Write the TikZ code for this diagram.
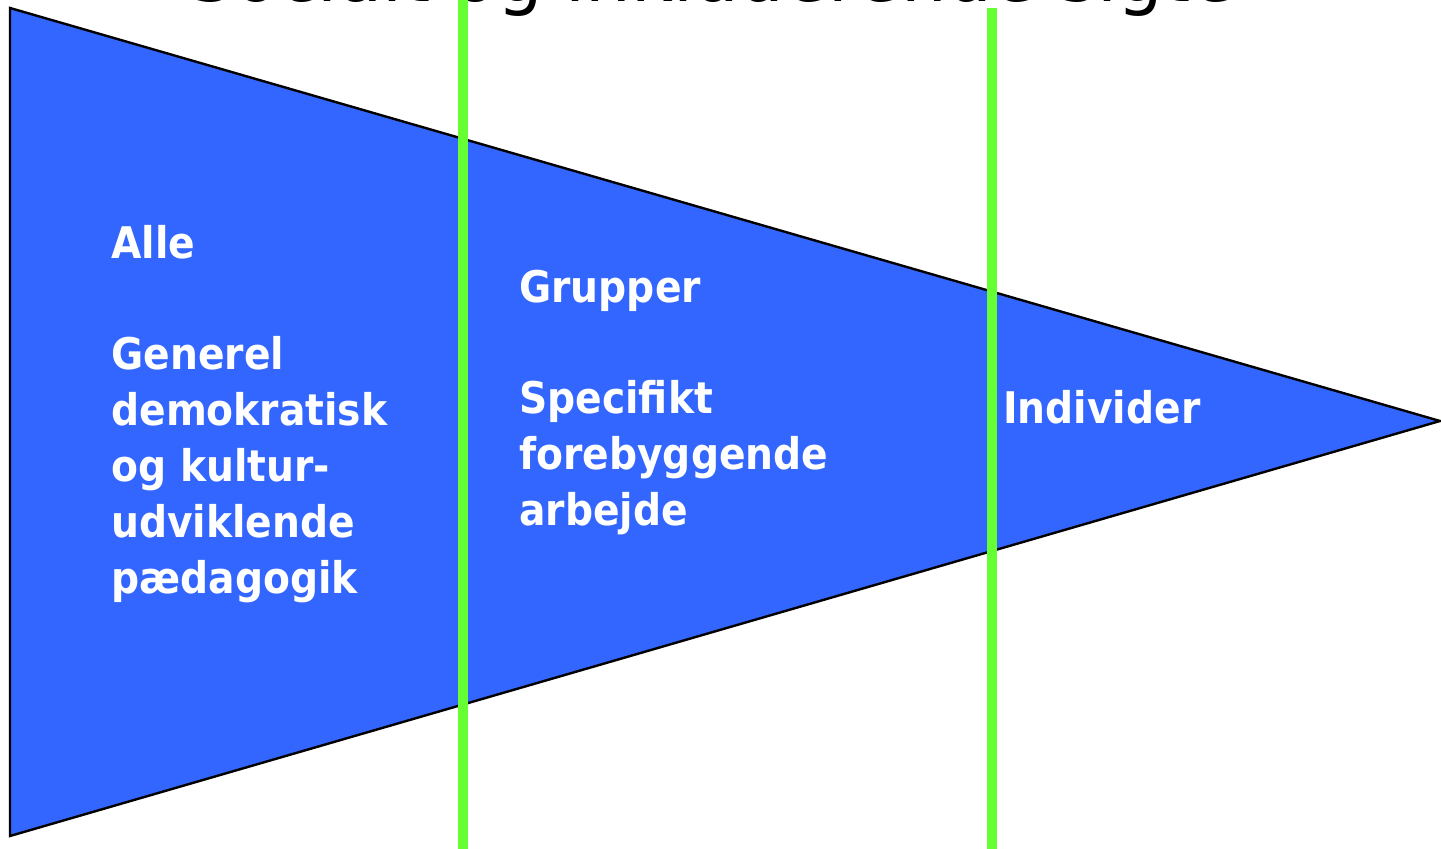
\documentclass[tikz,border=0pt]{standalone}
\usepackage{fontspec}
\setmainfont{DejaVu Sans Condensed}
\newfontfamily\titlefont{DejaVu Sans}
\definecolor{fillblue}{HTML}{3366FF}
\definecolor{linegreen}{HTML}{66FF33}
\tikzset{
  lbl/.style={anchor=base west, inner sep=0pt, text=white, font=\fontsize{21.8}{28}\selectfont\bfseries},
  divider/.style={draw=linegreen, line width=5pt},
  wedge/.style={fill=fillblue, draw=black, line width=1.2pt, line join=miter}
}
\begin{document}
\begin{tikzpicture}[x=0.5pt,y=-0.5pt]
\useasboundingbox (0,0) rectangle (1441,849);
\begin{scope}
\clip (0,0) rectangle (1441,849);
\node[anchor=base, inner sep=0pt, font=\titlefont\fontsize{36}{42}\selectfont] (title) at (712,2) {Socialt og inkluderende sigte};
\end{scope}
\coordinate (tl) at (10,8);
\coordinate (tip) at (1440,421);
\coordinate (bl) at (10,836);
\draw[wedge] (tl) -- (tip) -- (bl) -- cycle;
\coordinate (g1t) at (463,0);
\coordinate (g1b) at (463,849);
\coordinate (g2t) at (992,8);
\coordinate (g2b) at (992,849);
\draw[divider] (g1t) -- (g1b);
\draw[divider] (g2t) -- (g2b);
\node[lbl] (a1) at (111,259) {Alle};
\node[lbl] (a2) at (111,370) {Generel};
\node[lbl] (a3) at (111,426) {demokratisk};
\node[lbl] (a4) at (111,482) {og kultur-};
\node[lbl] (a5) at (111,538) {udviklende};
\node[lbl] (a6) at (111,594) {pædagogik};
\node[lbl] (b1) at (519,303) {Grupper};
\node[lbl] (b2) at (519,414) {Specifikt};
\node[lbl] (b3) at (519,470) {forebyggende};
\node[lbl] (b4) at (519,526) {arbejde};
\node[lbl] (c1) at (1003,424) {Individer};
\end{tikzpicture}
\end{document}
